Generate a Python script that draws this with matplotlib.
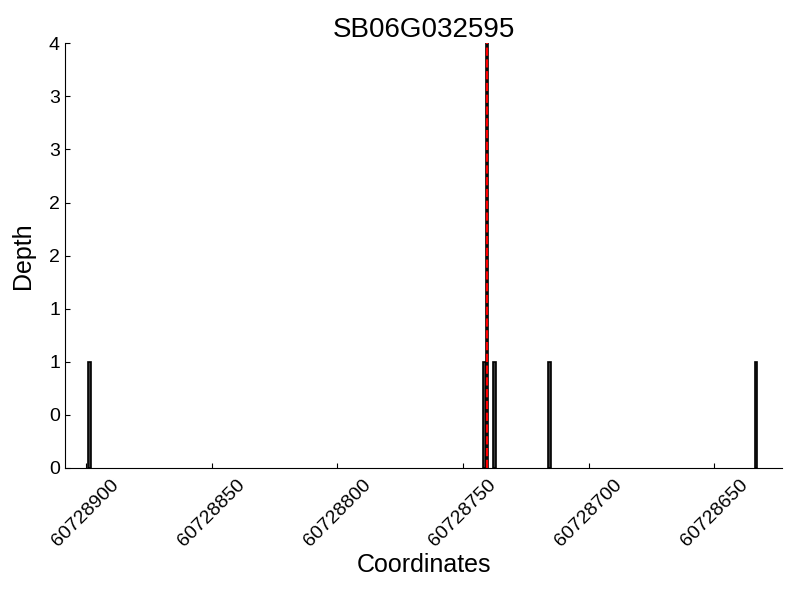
import matplotlib
matplotlib.use("Agg")
import matplotlib.pyplot as plt
from matplotlib.ticker import FormatStrFormatter, MultipleLocator

plt.rcParams['font.family'] = ['Liberation Sans', 'DejaVu Sans']

title = "SB06G032595"
positions = [60728898, 60728741, 60728740, 60728737, 60728715, 60728633]
depths = [1, 1, 4, 1, 1, 1]
marker_pos = 60728740
x_ticks = [60728900, 60728850, 60728800, 60728750, 60728700, 60728650]
x_range = (60728908.4, 60728622.9)
bar_width = 1

fig = plt.figure(figsize=(8, 6), dpi=100)
ax = fig.add_axes([0.081, 0.22, 0.897, 0.708])

ax.bar(positions, depths, width=bar_width, align='edge', color='#3c3c3c',
       edgecolor='black', linewidth=1.2)
ax.axvline(marker_pos + bar_width / 2, color='red', linestyle='--', linewidth=1.6)

ax.set_xlim(*x_range)
ax.set_ylim(0, 4)
ax.set_xticks(x_ticks)
ax.set_xticklabels([str(t) for t in x_ticks], rotation=45, ha='center')
ax.yaxis.set_major_locator(MultipleLocator(0.5))
ax.yaxis.set_major_formatter(FormatStrFormatter('%d'))

for s in ['top', 'right']:
    ax.spines[s].set_visible(False)
ax.tick_params(direction='in', labelsize=14, top=False, right=False)
ax.tick_params(axis='x', pad=6)

ax.set_title(title, fontsize=20, pad=4)
ax.set_xlabel("Coordinates", fontsize=18, labelpad=2)
ax.set_ylabel("Depth", fontsize=18, labelpad=10)

fig.savefig("out.png", dpi=100)
